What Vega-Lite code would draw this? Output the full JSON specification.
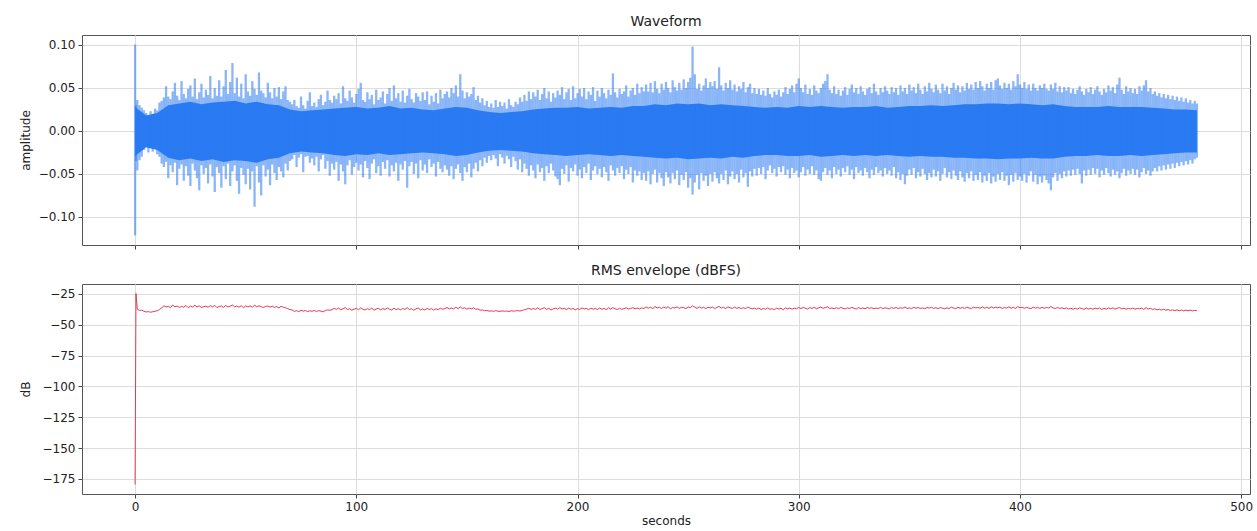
{
"$schema": "https://vega.github.io/schema/vega-lite/v6.json",
"padding": {"left": 18, "top": 14, "right": 8, "bottom": 2},
"config": {
  "font": "DejaVu Sans",
  "view": {"stroke": "#555555", "strokeWidth": 1},
  "axis": {"labelFontSize": 12, "titleFontSize": 12, "labelColor": "#222222", "titleColor": "#222222", "titleFontWeight": "normal", "tickColor": "#444444", "tickSize": 4, "domain": false, "gridColor": "#dddddd", "labelPadding": 3, "labelFlush": false},
  "title": {"fontSize": 14, "fontWeight": "normal", "color": "#222222", "offset": 6, "frame": "group"},
  "concat": {"spacing": 13}
},
"datasets": {
"core": [
{"t":0,"lo":-0.029,"hi":0.028},{"t":5,"lo":-0.019,"hi":0.018},{"t":10,"lo":-0.022,"hi":0.021},{"t":15,"lo":-0.031,"hi":0.030},{"t":20,"lo":-0.034,"hi":0.032},{"t":25,"lo":-0.032,"hi":0.034},{"t":30,"lo":-0.035,"hi":0.031},{"t":35,"lo":-0.033,"hi":0.033},{"t":40,"lo":-0.036,"hi":0.034},{"t":45,"lo":-0.034,"hi":0.035},{"t":50,"lo":-0.035,"hi":0.032},{"t":55,"lo":-0.037,"hi":0.034},{"t":60,"lo":-0.033,"hi":0.031},{"t":65,"lo":-0.031,"hi":0.030},{"t":70,"lo":-0.026,"hi":0.025},{"t":75,"lo":-0.024,"hi":0.023},{"t":80,"lo":-0.025,"hi":0.024},{"t":85,"lo":-0.026,"hi":0.025},{"t":90,"lo":-0.028,"hi":0.026},{"t":95,"lo":-0.029,"hi":0.027},{"t":100,"lo":-0.027,"hi":0.028},{"t":105,"lo":-0.028,"hi":0.026},{"t":110,"lo":-0.026,"hi":0.027},{"t":115,"lo":-0.028,"hi":0.029},{"t":120,"lo":-0.027,"hi":0.026},{"t":125,"lo":-0.026,"hi":0.027},{"t":130,"lo":-0.025,"hi":0.025},{"t":135,"lo":-0.026,"hi":0.024},{"t":140,"lo":-0.027,"hi":0.026},{"t":145,"lo":-0.029,"hi":0.028},{"t":150,"lo":-0.028,"hi":0.027},{"t":155,"lo":-0.025,"hi":0.024},{"t":160,"lo":-0.023,"hi":0.022},{"t":165,"lo":-0.022,"hi":0.021},{"t":170,"lo":-0.023,"hi":0.022},{"t":175,"lo":-0.024,"hi":0.023},{"t":180,"lo":-0.026,"hi":0.025},{"t":185,"lo":-0.027,"hi":0.026},{"t":190,"lo":-0.028,"hi":0.027},{"t":195,"lo":-0.029,"hi":0.027},{"t":200,"lo":-0.028,"hi":0.028},{"t":205,"lo":-0.027,"hi":0.026},{"t":210,"lo":-0.028,"hi":0.027},{"t":215,"lo":-0.029,"hi":0.028},{"t":220,"lo":-0.028,"hi":0.027},{"t":225,"lo":-0.029,"hi":0.029},{"t":230,"lo":-0.030,"hi":0.029},{"t":235,"lo":-0.031,"hi":0.031},{"t":240,"lo":-0.032,"hi":0.030},{"t":245,"lo":-0.031,"hi":0.032},{"t":250,"lo":-0.033,"hi":0.031},{"t":255,"lo":-0.032,"hi":0.032},{"t":260,"lo":-0.031,"hi":0.030},{"t":265,"lo":-0.032,"hi":0.031},{"t":270,"lo":-0.030,"hi":0.030},{"t":275,"lo":-0.031,"hi":0.029},{"t":280,"lo":-0.029,"hi":0.028},{"t":285,"lo":-0.028,"hi":0.027},{"t":290,"lo":-0.028,"hi":0.028},{"t":295,"lo":-0.029,"hi":0.027},{"t":300,"lo":-0.029,"hi":0.029},{"t":305,"lo":-0.028,"hi":0.028},{"t":310,"lo":-0.030,"hi":0.029},{"t":315,"lo":-0.029,"hi":0.028},{"t":320,"lo":-0.028,"hi":0.027},{"t":325,"lo":-0.029,"hi":0.028},{"t":330,"lo":-0.028,"hi":0.028},{"t":335,"lo":-0.029,"hi":0.029},{"t":340,"lo":-0.028,"hi":0.027},{"t":345,"lo":-0.029,"hi":0.028},{"t":350,"lo":-0.030,"hi":0.029},{"t":355,"lo":-0.029,"hi":0.029},{"t":360,"lo":-0.030,"hi":0.030},{"t":365,"lo":-0.030,"hi":0.029},{"t":370,"lo":-0.031,"hi":0.030},{"t":375,"lo":-0.031,"hi":0.031},{"t":380,"lo":-0.032,"hi":0.031},{"t":385,"lo":-0.032,"hi":0.032},{"t":390,"lo":-0.033,"hi":0.032},{"t":395,"lo":-0.032,"hi":0.031},{"t":400,"lo":-0.032,"hi":0.032},{"t":405,"lo":-0.031,"hi":0.031},{"t":410,"lo":-0.032,"hi":0.030},{"t":415,"lo":-0.032,"hi":0.031},{"t":420,"lo":-0.030,"hi":0.029},{"t":425,"lo":-0.029,"hi":0.028},{"t":430,"lo":-0.029,"hi":0.028},{"t":435,"lo":-0.028,"hi":0.028},{"t":440,"lo":-0.029,"hi":0.029},{"t":445,"lo":-0.029,"hi":0.028},{"t":450,"lo":-0.028,"hi":0.028},{"t":455,"lo":-0.029,"hi":0.028},{"t":460,"lo":-0.028,"hi":0.027},{"t":465,"lo":-0.027,"hi":0.026},{"t":470,"lo":-0.026,"hi":0.025},{"t":475,"lo":-0.025,"hi":0.025},{"t":480,"lo":-0.025,"hi":0.024}
],
"wave": [
{"t":0,"lo":-0.1215,"hi":0.1005,"db":-179.5},{"t":0.4,"lo":-0.035,"hi":0.03,"db":-24.6},
{"t":1,"lo":-0.046,"hi":0.036,"db":-37.4},{"t":2,"lo":-0.034,"hi":0.030,"db":-38.3},{"t":3,"lo":-0.030,"hi":0.027,"db":-38.1},{"t":4,"lo":-0.022,"hi":0.024,"db":-39.0},{"t":5,"lo":-0.019,"hi":0.021,"db":-39.6},{"t":6,"lo":-0.025,"hi":0.018,"db":-39.3},{"t":7,"lo":-0.020,"hi":0.023,"db":-39.8},{"t":8,"lo":-0.024,"hi":0.020,"db":-39.4},{"t":9,"lo":-0.021,"hi":0.026,"db":-38.9},{"t":10,"lo":-0.027,"hi":0.024,"db":-38.6},
{"t":11,"lo":-0.030,"hi":0.033,"db":-37.6},{"t":12,"lo":-0.038,"hi":0.035,"db":-36.4},{"t":13,"lo":-0.042,"hi":0.039,"db":-34.5},{"t":14,"lo":-0.036,"hi":0.052,"db":-35.6},{"t":15,"lo":-0.055,"hi":0.040,"db":-35.0},{"t":16,"lo":-0.040,"hi":0.037,"db":-36.1},{"t":17,"lo":-0.048,"hi":0.046,"db":-34.0},{"t":18,"lo":-0.037,"hi":0.056,"db":-35.4},{"t":19,"lo":-0.063,"hi":0.041,"db":-34.8},{"t":20,"lo":-0.044,"hi":0.036,"db":-35.9},
{"t":21,"lo":-0.039,"hi":0.058,"db":-35.1},{"t":22,"lo":-0.058,"hi":0.043,"db":-35.7},{"t":23,"lo":-0.041,"hi":0.038,"db":-34.3},{"t":24,"lo":-0.052,"hi":0.049,"db":-36.2},{"t":25,"lo":-0.064,"hi":0.053,"db":-34.8},{"t":26,"lo":-0.038,"hi":0.040,"db":-35.6},{"t":27,"lo":-0.046,"hi":0.061,"db":-34.1},{"t":28,"lo":-0.055,"hi":0.037,"db":-35.5},{"t":29,"lo":-0.069,"hi":0.045,"db":-34.6},{"t":30,"lo":-0.040,"hi":0.055,"db":-36.0},
{"t":31,"lo":-0.050,"hi":0.039,"db":-35.3},{"t":32,"lo":-0.043,"hi":0.048,"db":-34.9},{"t":33,"lo":-0.061,"hi":0.042,"db":-35.8},{"t":34,"lo":-0.039,"hi":0.064,"db":-34.4},{"t":35,"lo":-0.053,"hi":0.038,"db":-35.5},{"t":36,"lo":-0.071,"hi":0.050,"db":-34.2},{"t":37,"lo":-0.042,"hi":0.041,"db":-36.0},{"t":38,"lo":-0.049,"hi":0.059,"db":-35.2},{"t":39,"lo":-0.066,"hi":0.040,"db":-34.7},{"t":40,"lo":-0.041,"hi":0.052,"db":-35.9},
{"t":41,"lo":-0.056,"hi":0.071,"db":-34.3},{"t":42,"lo":-0.038,"hi":0.043,"db":-35.6},{"t":43,"lo":-0.064,"hi":0.057,"db":-34.9},{"t":44,"lo":-0.047,"hi":0.079,"db":-33.9},{"t":45,"lo":-0.040,"hi":0.044,"db":-35.4},{"t":46,"lo":-0.058,"hi":0.062,"db":-34.8},{"t":47,"lo":-0.073,"hi":0.040,"db":-35.7},{"t":48,"lo":-0.043,"hi":0.055,"db":-34.5},{"t":49,"lo":-0.051,"hi":0.038,"db":-36.1},{"t":50,"lo":-0.062,"hi":0.066,"db":-34.6},
{"t":51,"lo":-0.044,"hi":0.046,"db":-35.5},{"t":52,"lo":-0.068,"hi":0.041,"db":-34.7},{"t":53,"lo":-0.047,"hi":0.058,"db":-35.8},{"t":54,"lo":-0.088,"hi":0.049,"db":-34.0},{"t":55,"lo":-0.041,"hi":0.042,"db":-35.4},{"t":56,"lo":-0.060,"hi":0.068,"db":-34.6},{"t":57,"lo":-0.075,"hi":0.047,"db":-35.3},{"t":58,"lo":-0.040,"hi":0.044,"db":-36.0},{"t":59,"lo":-0.053,"hi":0.039,"db":-35.1},{"t":60,"lo":-0.045,"hi":0.056,"db":-34.8},
{"t":61,"lo":-0.063,"hi":0.045,"db":-35.7},{"t":62,"lo":-0.039,"hi":0.038,"db":-34.9},{"t":63,"lo":-0.049,"hi":0.050,"db":-35.9},{"t":64,"lo":-0.057,"hi":0.040,"db":-35.2},{"t":65,"lo":-0.042,"hi":0.051,"db":-36.3},{"t":66,"lo":-0.047,"hi":0.037,"db":-35.0},{"t":67,"lo":-0.054,"hi":0.046,"db":-35.8},{"t":68,"lo":-0.038,"hi":0.052,"db":-36.2},{"t":69,"lo":-0.046,"hi":0.036,"db":-36.9},{"t":70,"lo":-0.035,"hi":0.034,"db":-37.6},
{"t":71,"lo":-0.033,"hi":0.031,"db":-38.0},{"t":72,"lo":-0.028,"hi":0.036,"db":-39.1},{"t":73,"lo":-0.042,"hi":0.029,"db":-38.5},{"t":74,"lo":-0.031,"hi":0.027,"db":-39.4},{"t":75,"lo":-0.027,"hi":0.040,"db":-38.2},{"t":76,"lo":-0.048,"hi":0.030,"db":-38.9},{"t":77,"lo":-0.030,"hi":0.026,"db":-38.4},{"t":78,"lo":-0.029,"hi":0.035,"db":-39.3},{"t":79,"lo":-0.037,"hi":0.045,"db":-38.6},{"t":80,"lo":-0.032,"hi":0.029,"db":-39.0},
{"t":81,"lo":-0.040,"hi":0.033,"db":-38.3},{"t":82,"lo":-0.030,"hi":0.028,"db":-39.2},{"t":83,"lo":-0.047,"hi":0.037,"db":-38.5},{"t":84,"lo":-0.033,"hi":0.042,"db":-38.9},{"t":85,"lo":-0.028,"hi":0.030,"db":-39.5},{"t":86,"lo":-0.044,"hi":0.034,"db":-38.4},{"t":87,"lo":-0.035,"hi":0.047,"db":-37.9},{"t":88,"lo":-0.052,"hi":0.036,"db":-38.2},{"t":89,"lo":-0.038,"hi":0.033,"db":-37.7},{"t":90,"lo":-0.045,"hi":0.041,"db":-36.6},
{"t":91,"lo":-0.036,"hi":0.037,"db":-37.5},{"t":92,"lo":-0.058,"hi":0.044,"db":-36.4},{"t":93,"lo":-0.039,"hi":0.032,"db":-37.9},{"t":94,"lo":-0.047,"hi":0.052,"db":-36.9},{"t":95,"lo":-0.062,"hi":0.038,"db":-36.1},{"t":96,"lo":-0.040,"hi":0.035,"db":-37.6},{"t":97,"lo":-0.034,"hi":0.047,"db":-37.0},{"t":98,"lo":-0.051,"hi":0.039,"db":-38.1},{"t":99,"lo":-0.042,"hi":0.033,"db":-37.3},{"t":100,"lo":-0.037,"hi":0.043,"db":-36.7},
{"t":101,"lo":-0.046,"hi":0.049,"db":-37.8},{"t":102,"lo":-0.039,"hi":0.056,"db":-36.2},{"t":103,"lo":-0.054,"hi":0.036,"db":-37.4},{"t":104,"lo":-0.035,"hi":0.034,"db":-38.0},{"t":105,"lo":-0.043,"hi":0.045,"db":-36.9},{"t":106,"lo":-0.056,"hi":0.037,"db":-37.7},{"t":107,"lo":-0.038,"hi":0.042,"db":-36.5},{"t":108,"lo":-0.033,"hi":0.031,"db":-38.1},{"t":109,"lo":-0.049,"hi":0.048,"db":-37.2},{"t":110,"lo":-0.041,"hi":0.036,"db":-36.6},
{"t":111,"lo":-0.052,"hi":0.039,"db":-37.9},{"t":112,"lo":-0.036,"hi":0.046,"db":-36.8},{"t":113,"lo":-0.044,"hi":0.032,"db":-37.6},{"t":114,"lo":-0.034,"hi":0.043,"db":-36.3},{"t":115,"lo":-0.053,"hi":0.050,"db":-37.4},{"t":116,"lo":-0.040,"hi":0.035,"db":-38.0},{"t":117,"lo":-0.047,"hi":0.053,"db":-36.5},{"t":118,"lo":-0.037,"hi":0.038,"db":-37.7},{"t":119,"lo":-0.058,"hi":0.044,"db":-36.9},{"t":120,"lo":-0.039,"hi":0.034,"db":-37.8},
{"t":121,"lo":-0.045,"hi":0.047,"db":-36.8},{"t":122,"lo":-0.035,"hi":0.033,"db":-37.5},{"t":123,"lo":-0.066,"hi":0.041,"db":-36.1},{"t":124,"lo":-0.041,"hi":0.049,"db":-37.6},{"t":125,"lo":-0.036,"hi":0.037,"db":-36.9},{"t":126,"lo":-0.050,"hi":0.033,"db":-38.2},{"t":127,"lo":-0.038,"hi":0.044,"db":-37.0},{"t":128,"lo":-0.055,"hi":0.040,"db":-36.4},{"t":129,"lo":-0.034,"hi":0.035,"db":-37.9},{"t":130,"lo":-0.046,"hi":0.045,"db":-37.1},
{"t":131,"lo":-0.039,"hi":0.036,"db":-38.0},{"t":132,"lo":-0.049,"hi":0.046,"db":-36.7},{"t":133,"lo":-0.033,"hi":0.031,"db":-37.6},{"t":134,"lo":-0.042,"hi":0.041,"db":-36.9},{"t":135,"lo":-0.038,"hi":0.034,"db":-38.1},{"t":136,"lo":-0.053,"hi":0.044,"db":-37.0},{"t":137,"lo":-0.036,"hi":0.032,"db":-37.7},{"t":138,"lo":-0.044,"hi":0.048,"db":-36.6},{"t":139,"lo":-0.048,"hi":0.038,"db":-37.4},{"t":140,"lo":-0.040,"hi":0.043,"db":-36.8},
{"t":141,"lo":-0.045,"hi":0.046,"db":-36.0},{"t":142,"lo":-0.052,"hi":0.039,"db":-37.1},{"t":143,"lo":-0.041,"hi":0.050,"db":-36.3},{"t":144,"lo":-0.056,"hi":0.044,"db":-37.2},{"t":145,"lo":-0.044,"hi":0.053,"db":-35.7},{"t":146,"lo":-0.039,"hi":0.040,"db":-36.9},{"t":147,"lo":-0.049,"hi":0.066,"db":-35.5},{"t":148,"lo":-0.058,"hi":0.047,"db":-36.8},{"t":149,"lo":-0.042,"hi":0.038,"db":-36.2},{"t":150,"lo":-0.048,"hi":0.045,"db":-37.3},
{"t":151,"lo":-0.038,"hi":0.040,"db":-36.4},{"t":152,"lo":-0.054,"hi":0.043,"db":-37.0},{"t":153,"lo":-0.044,"hi":0.051,"db":-36.3},{"t":154,"lo":-0.037,"hi":0.036,"db":-37.4},{"t":155,"lo":-0.047,"hi":0.041,"db":-37.2},{"t":156,"lo":-0.034,"hi":0.033,"db":-38.1},{"t":157,"lo":-0.041,"hi":0.038,"db":-37.9},{"t":158,"lo":-0.031,"hi":0.030,"db":-38.6},{"t":159,"lo":-0.037,"hi":0.035,"db":-38.4},{"t":160,"lo":-0.029,"hi":0.028,"db":-38.9},
{"t":161,"lo":-0.034,"hi":0.032,"db":-38.7},{"t":162,"lo":-0.028,"hi":0.027,"db":-39.0},{"t":163,"lo":-0.032,"hi":0.036,"db":-38.6},{"t":164,"lo":-0.041,"hi":0.028,"db":-38.9},{"t":165,"lo":-0.027,"hi":0.034,"db":-39.1},{"t":166,"lo":-0.031,"hi":0.029,"db":-38.7},{"t":167,"lo":-0.038,"hi":0.033,"db":-39.0},{"t":168,"lo":-0.029,"hi":0.026,"db":-38.8},{"t":169,"lo":-0.033,"hi":0.037,"db":-39.2},{"t":170,"lo":-0.042,"hi":0.030,"db":-38.6},
{"t":171,"lo":-0.030,"hi":0.028,"db":-38.9},{"t":172,"lo":-0.035,"hi":0.034,"db":-38.7},{"t":173,"lo":-0.045,"hi":0.031,"db":-38.5},{"t":174,"lo":-0.033,"hi":0.039,"db":-38.8},{"t":175,"lo":-0.048,"hi":0.034,"db":-38.3},{"t":176,"lo":-0.038,"hi":0.042,"db":-37.8},{"t":177,"lo":-0.044,"hi":0.035,"db":-37.2},{"t":178,"lo":-0.052,"hi":0.046,"db":-36.6},{"t":179,"lo":-0.040,"hi":0.037,"db":-37.5},{"t":180,"lo":-0.046,"hi":0.045,"db":-36.8},
{"t":181,"lo":-0.055,"hi":0.040,"db":-37.4},{"t":182,"lo":-0.039,"hi":0.048,"db":-36.3},{"t":183,"lo":-0.048,"hi":0.036,"db":-37.6},{"t":184,"lo":-0.043,"hi":0.043,"db":-36.9},{"t":185,"lo":-0.058,"hi":0.050,"db":-36.1},{"t":186,"lo":-0.041,"hi":0.038,"db":-37.5},{"t":187,"lo":-0.049,"hi":0.046,"db":-36.7},{"t":188,"lo":-0.038,"hi":0.034,"db":-37.9},{"t":189,"lo":-0.046,"hi":0.044,"db":-37.1},{"t":190,"lo":-0.053,"hi":0.039,"db":-36.5},
{"t":191,"lo":-0.056,"hi":0.047,"db":-37.3},{"t":192,"lo":-0.063,"hi":0.042,"db":-36.0},{"t":193,"lo":-0.044,"hi":0.051,"db":-37.2},{"t":194,"lo":-0.050,"hi":0.037,"db":-36.6},{"t":195,"lo":-0.040,"hi":0.045,"db":-37.7},{"t":196,"lo":-0.059,"hi":0.049,"db":-36.4},{"t":197,"lo":-0.043,"hi":0.036,"db":-37.4},{"t":198,"lo":-0.047,"hi":0.052,"db":-36.8},{"t":199,"lo":-0.039,"hi":0.038,"db":-37.9},{"t":200,"lo":-0.052,"hi":0.044,"db":-36.9},
{"t":201,"lo":-0.045,"hi":0.049,"db":-37.5},{"t":202,"lo":-0.055,"hi":0.040,"db":-36.3},{"t":203,"lo":-0.042,"hi":0.050,"db":-37.1},{"t":204,"lo":-0.049,"hi":0.037,"db":-36.7},{"t":205,"lo":-0.038,"hi":0.046,"db":-37.8},{"t":206,"lo":-0.057,"hi":0.042,"db":-36.5},{"t":207,"lo":-0.046,"hi":0.051,"db":-37.3},{"t":208,"lo":-0.041,"hi":0.035,"db":-36.8},{"t":209,"lo":-0.050,"hi":0.047,"db":-37.6},{"t":210,"lo":-0.044,"hi":0.040,"db":-36.4},
{"t":211,"lo":-0.054,"hi":0.050,"db":-37.4},{"t":212,"lo":-0.042,"hi":0.044,"db":-36.7},{"t":213,"lo":-0.048,"hi":0.038,"db":-37.7},{"t":214,"lo":-0.058,"hi":0.048,"db":-36.2},{"t":215,"lo":-0.040,"hi":0.042,"db":-37.3},{"t":216,"lo":-0.046,"hi":0.067,"db":-36.0},{"t":217,"lo":-0.052,"hi":0.045,"db":-37.0},{"t":218,"lo":-0.043,"hi":0.039,"db":-37.6},{"t":219,"lo":-0.049,"hi":0.049,"db":-36.6},{"t":220,"lo":-0.041,"hi":0.043,"db":-37.5},
{"t":221,"lo":-0.056,"hi":0.046,"db":-36.9},{"t":222,"lo":-0.045,"hi":0.053,"db":-36.2},{"t":223,"lo":-0.050,"hi":0.040,"db":-37.2},{"t":224,"lo":-0.042,"hi":0.047,"db":-36.7},{"t":225,"lo":-0.060,"hi":0.050,"db":-36.1},{"t":226,"lo":-0.046,"hi":0.042,"db":-37.0},{"t":227,"lo":-0.052,"hi":0.055,"db":-36.4},{"t":228,"lo":-0.047,"hi":0.044,"db":-37.1},{"t":229,"lo":-0.057,"hi":0.051,"db":-36.3},{"t":230,"lo":-0.049,"hi":0.046,"db":-36.8},
{"t":231,"lo":-0.058,"hi":0.054,"db":-35.5},{"t":232,"lo":-0.047,"hi":0.046,"db":-36.6},{"t":233,"lo":-0.062,"hi":0.056,"db":-35.7},{"t":234,"lo":-0.050,"hi":0.045,"db":-36.9},{"t":235,"lo":-0.045,"hi":0.058,"db":-35.2},{"t":236,"lo":-0.060,"hi":0.049,"db":-36.3},{"t":237,"lo":-0.049,"hi":0.044,"db":-35.8},{"t":238,"lo":-0.055,"hi":0.055,"db":-36.8},{"t":239,"lo":-0.064,"hi":0.048,"db":-35.6},{"t":240,"lo":-0.048,"hi":0.057,"db":-36.5},
{"t":241,"lo":-0.054,"hi":0.050,"db":-35.3},{"t":242,"lo":-0.061,"hi":0.045,"db":-37.1},{"t":243,"lo":-0.049,"hi":0.059,"db":-35.9},{"t":244,"lo":-0.056,"hi":0.051,"db":-36.4},{"t":245,"lo":-0.046,"hi":0.047,"db":-35.4},{"t":246,"lo":-0.063,"hi":0.056,"db":-36.7},{"t":247,"lo":-0.051,"hi":0.048,"db":-35.8},{"t":248,"lo":-0.057,"hi":0.060,"db":-36.0},{"t":249,"lo":-0.048,"hi":0.050,"db":-36.9},{"t":250,"lo":-0.066,"hi":0.057,"db":-35.5},
{"t":251,"lo":-0.055,"hi":0.062,"db":-36.1},{"t":252,"lo":-0.074,"hi":0.098,"db":-34.6},{"t":253,"lo":-0.060,"hi":0.066,"db":-35.6},{"t":254,"lo":-0.051,"hi":0.049,"db":-36.7},{"t":255,"lo":-0.068,"hi":0.055,"db":-35.4},{"t":256,"lo":-0.049,"hi":0.047,"db":-36.5},{"t":257,"lo":-0.058,"hi":0.053,"db":-35.8},{"t":258,"lo":-0.052,"hi":0.061,"db":-36.9},{"t":259,"lo":-0.064,"hi":0.050,"db":-35.7},{"t":260,"lo":-0.050,"hi":0.057,"db":-36.3},
{"t":261,"lo":-0.059,"hi":0.052,"db":-35.6},{"t":262,"lo":-0.048,"hi":0.058,"db":-36.8},{"t":263,"lo":-0.055,"hi":0.049,"db":-35.9},{"t":264,"lo":-0.061,"hi":0.074,"db":-35.1},{"t":265,"lo":-0.050,"hi":0.053,"db":-36.4},{"t":266,"lo":-0.057,"hi":0.047,"db":-35.8},{"t":267,"lo":-0.046,"hi":0.056,"db":-36.9},{"t":268,"lo":-0.062,"hi":0.050,"db":-35.5},{"t":269,"lo":-0.053,"hi":0.059,"db":-36.2},{"t":270,"lo":-0.047,"hi":0.048,"db":-36.7},
{"t":271,"lo":-0.056,"hi":0.054,"db":-35.7},{"t":272,"lo":-0.050,"hi":0.046,"db":-36.6},{"t":273,"lo":-0.060,"hi":0.052,"db":-35.9},{"t":274,"lo":-0.045,"hi":0.049,"db":-37.0},{"t":275,"lo":-0.054,"hi":0.057,"db":-36.1},{"t":276,"lo":-0.049,"hi":0.045,"db":-36.8},{"t":277,"lo":-0.065,"hi":0.051,"db":-35.6},{"t":278,"lo":-0.047,"hi":0.055,"db":-36.5},{"t":279,"lo":-0.053,"hi":0.044,"db":-37.1},{"t":280,"lo":-0.044,"hi":0.050,"db":-36.4},
{"t":281,"lo":-0.052,"hi":0.043,"db":-37.3},{"t":282,"lo":-0.043,"hi":0.049,"db":-36.4},{"t":283,"lo":-0.050,"hi":0.042,"db":-37.6},{"t":284,"lo":-0.042,"hi":0.047,"db":-36.7},{"t":285,"lo":-0.056,"hi":0.041,"db":-37.4},{"t":286,"lo":-0.046,"hi":0.050,"db":-36.2},{"t":287,"lo":-0.040,"hi":0.043,"db":-37.5},{"t":288,"lo":-0.049,"hi":0.039,"db":-36.9},{"t":289,"lo":-0.044,"hi":0.046,"db":-37.7},{"t":290,"lo":-0.053,"hi":0.042,"db":-36.5},
{"t":291,"lo":-0.042,"hi":0.048,"db":-37.2},{"t":292,"lo":-0.048,"hi":0.040,"db":-36.6},{"t":293,"lo":-0.041,"hi":0.045,"db":-37.8},{"t":294,"lo":-0.051,"hi":0.051,"db":-36.3},{"t":295,"lo":-0.045,"hi":0.043,"db":-37.1},{"t":296,"lo":-0.055,"hi":0.049,"db":-36.4},{"t":297,"lo":-0.043,"hi":0.053,"db":-37.3},{"t":298,"lo":-0.049,"hi":0.045,"db":-36.5},{"t":299,"lo":-0.046,"hi":0.055,"db":-37.0},{"t":300,"lo":-0.054,"hi":0.061,"db":-35.8},
{"t":301,"lo":-0.048,"hi":0.050,"db":-36.9},{"t":302,"lo":-0.042,"hi":0.045,"db":-35.9},{"t":303,"lo":-0.052,"hi":0.054,"db":-36.6},{"t":304,"lo":-0.045,"hi":0.043,"db":-37.2},{"t":305,"lo":-0.050,"hi":0.049,"db":-36.0},{"t":306,"lo":-0.041,"hi":0.042,"db":-36.8},{"t":307,"lo":-0.051,"hi":0.053,"db":-35.7},{"t":308,"lo":-0.046,"hi":0.047,"db":-36.9},{"t":309,"lo":-0.056,"hi":0.044,"db":-36.2},{"t":310,"lo":-0.058,"hi":0.050,"db":-35.6},
{"t":311,"lo":-0.048,"hi":0.055,"db":-36.7},{"t":312,"lo":-0.043,"hi":0.058,"db":-36.0},{"t":313,"lo":-0.051,"hi":0.066,"db":-35.4},{"t":314,"lo":-0.046,"hi":0.048,"db":-36.8},{"t":315,"lo":-0.055,"hi":0.044,"db":-36.3},{"t":316,"lo":-0.042,"hi":0.052,"db":-37.0},{"t":317,"lo":-0.050,"hi":0.043,"db":-36.1},{"t":318,"lo":-0.045,"hi":0.048,"db":-36.9},{"t":319,"lo":-0.053,"hi":0.041,"db":-35.9},{"t":320,"lo":-0.043,"hi":0.047,"db":-36.6},
{"t":321,"lo":-0.048,"hi":0.051,"db":-37.1},{"t":322,"lo":-0.041,"hi":0.042,"db":-36.2},{"t":323,"lo":-0.051,"hi":0.049,"db":-36.8},{"t":324,"lo":-0.045,"hi":0.054,"db":-35.8},{"t":325,"lo":-0.056,"hi":0.045,"db":-36.6},{"t":326,"lo":-0.042,"hi":0.050,"db":-37.2},{"t":327,"lo":-0.049,"hi":0.043,"db":-36.0},{"t":328,"lo":-0.046,"hi":0.052,"db":-36.9},{"t":329,"lo":-0.052,"hi":0.046,"db":-36.3},{"t":330,"lo":-0.043,"hi":0.042,"db":-37.0},
{"t":331,"lo":-0.048,"hi":0.049,"db":-35.9},{"t":332,"lo":-0.055,"hi":0.051,"db":-36.7},{"t":333,"lo":-0.045,"hi":0.044,"db":-36.1},{"t":334,"lo":-0.051,"hi":0.055,"db":-37.0},{"t":335,"lo":-0.042,"hi":0.046,"db":-36.4},{"t":336,"lo":-0.049,"hi":0.042,"db":-36.8},{"t":337,"lo":-0.046,"hi":0.050,"db":-35.8},{"t":338,"lo":-0.053,"hi":0.045,"db":-36.9},{"t":339,"lo":-0.043,"hi":0.052,"db":-36.2},{"t":340,"lo":-0.050,"hi":0.047,"db":-36.6},
{"t":341,"lo":-0.046,"hi":0.043,"db":-37.1},{"t":342,"lo":-0.052,"hi":0.051,"db":-36.0},{"t":343,"lo":-0.042,"hi":0.045,"db":-36.7},{"t":344,"lo":-0.055,"hi":0.050,"db":-35.9},{"t":345,"lo":-0.048,"hi":0.042,"db":-36.9},{"t":346,"lo":-0.057,"hi":0.053,"db":-36.1},{"t":347,"lo":-0.050,"hi":0.046,"db":-36.6},{"t":348,"lo":-0.062,"hi":0.050,"db":-35.6},{"t":349,"lo":-0.052,"hi":0.043,"db":-36.8},{"t":350,"lo":-0.045,"hi":0.054,"db":-36.2},
{"t":351,"lo":-0.051,"hi":0.047,"db":-36.9},{"t":352,"lo":-0.043,"hi":0.051,"db":-35.8},{"t":353,"lo":-0.055,"hi":0.044,"db":-36.6},{"t":354,"lo":-0.048,"hi":0.055,"db":-36.0},{"t":355,"lo":-0.053,"hi":0.048,"db":-36.8},{"t":356,"lo":-0.044,"hi":0.043,"db":-36.3},{"t":357,"lo":-0.050,"hi":0.052,"db":-37.0},{"t":358,"lo":-0.057,"hi":0.046,"db":-35.9},{"t":359,"lo":-0.049,"hi":0.056,"db":-36.5},{"t":360,"lo":-0.054,"hi":0.049,"db":-35.8},
{"t":361,"lo":-0.045,"hi":0.045,"db":-36.7},{"t":362,"lo":-0.053,"hi":0.054,"db":-36.1},{"t":363,"lo":-0.047,"hi":0.048,"db":-36.9},{"t":364,"lo":-0.058,"hi":0.044,"db":-36.0},{"t":365,"lo":-0.050,"hi":0.055,"db":-36.5},{"t":366,"lo":-0.043,"hi":0.047,"db":-37.0},{"t":367,"lo":-0.054,"hi":0.052,"db":-36.2},{"t":368,"lo":-0.048,"hi":0.043,"db":-36.8},{"t":369,"lo":-0.056,"hi":0.050,"db":-35.7},{"t":370,"lo":-0.046,"hi":0.056,"db":-36.4},
{"t":371,"lo":-0.052,"hi":0.048,"db":-36.9},{"t":372,"lo":-0.057,"hi":0.053,"db":-35.8},{"t":373,"lo":-0.047,"hi":0.045,"db":-36.6},{"t":374,"lo":-0.054,"hi":0.052,"db":-36.0},{"t":375,"lo":-0.059,"hi":0.047,"db":-36.7},{"t":376,"lo":-0.049,"hi":0.056,"db":-35.6},{"t":377,"lo":-0.055,"hi":0.049,"db":-36.4},{"t":378,"lo":-0.047,"hi":0.054,"db":-36.8},{"t":379,"lo":-0.058,"hi":0.048,"db":-35.7},{"t":380,"lo":-0.051,"hi":0.057,"db":-36.3},
{"t":381,"lo":-0.057,"hi":0.050,"db":-35.9},{"t":382,"lo":-0.048,"hi":0.058,"db":-36.6},{"t":383,"lo":-0.060,"hi":0.052,"db":-35.5},{"t":384,"lo":-0.052,"hi":0.047,"db":-36.5},{"t":385,"lo":-0.058,"hi":0.055,"db":-35.8},{"t":386,"lo":-0.049,"hi":0.050,"db":-36.7},{"t":387,"lo":-0.061,"hi":0.057,"db":-35.4},{"t":388,"lo":-0.053,"hi":0.048,"db":-36.3},{"t":389,"lo":-0.059,"hi":0.059,"db":-35.7},{"t":390,"lo":-0.050,"hi":0.061,"db":-36.2},
{"t":391,"lo":-0.057,"hi":0.053,"db":-35.6},{"t":392,"lo":-0.048,"hi":0.049,"db":-36.8},{"t":393,"lo":-0.058,"hi":0.056,"db":-35.9},{"t":394,"lo":-0.052,"hi":0.050,"db":-36.5},{"t":395,"lo":-0.063,"hi":0.055,"db":-35.4},{"t":396,"lo":-0.051,"hi":0.048,"db":-36.6},{"t":397,"lo":-0.059,"hi":0.058,"db":-35.8},{"t":398,"lo":-0.049,"hi":0.052,"db":-36.7},{"t":399,"lo":-0.057,"hi":0.066,"db":-35.3},{"t":400,"lo":-0.053,"hi":0.054,"db":-36.2},
{"t":401,"lo":-0.058,"hi":0.050,"db":-35.7},{"t":402,"lo":-0.050,"hi":0.057,"db":-36.6},{"t":403,"lo":-0.060,"hi":0.049,"db":-35.8},{"t":404,"lo":-0.052,"hi":0.054,"db":-36.4},{"t":405,"lo":-0.047,"hi":0.047,"db":-36.9},{"t":406,"lo":-0.059,"hi":0.055,"db":-35.6},{"t":407,"lo":-0.051,"hi":0.050,"db":-36.5},{"t":408,"lo":-0.062,"hi":0.047,"db":-35.9},{"t":409,"lo":-0.053,"hi":0.053,"db":-36.7},{"t":410,"lo":-0.060,"hi":0.050,"db":-35.8},
{"t":411,"lo":-0.052,"hi":0.055,"db":-36.6},{"t":412,"lo":-0.057,"hi":0.049,"db":-35.9},{"t":413,"lo":-0.061,"hi":0.047,"db":-36.4},{"t":414,"lo":-0.069,"hi":0.054,"db":-35.2},{"t":415,"lo":-0.054,"hi":0.049,"db":-36.3},{"t":416,"lo":-0.049,"hi":0.056,"db":-36.8},{"t":417,"lo":-0.058,"hi":0.046,"db":-35.9},{"t":418,"lo":-0.050,"hi":0.052,"db":-36.7},{"t":419,"lo":-0.055,"hi":0.045,"db":-36.2},{"t":420,"lo":-0.047,"hi":0.051,"db":-37.0},
{"t":421,"lo":-0.053,"hi":0.047,"db":-36.3},{"t":422,"lo":-0.046,"hi":0.051,"db":-37.2},{"t":423,"lo":-0.052,"hi":0.044,"db":-36.5},{"t":424,"lo":-0.045,"hi":0.049,"db":-37.4},{"t":425,"lo":-0.051,"hi":0.043,"db":-36.6},{"t":426,"lo":-0.044,"hi":0.048,"db":-37.3},{"t":427,"lo":-0.050,"hi":0.052,"db":-36.2},{"t":428,"lo":-0.061,"hi":0.046,"db":-36.9},{"t":429,"lo":-0.046,"hi":0.042,"db":-37.5},{"t":430,"lo":-0.052,"hi":0.049,"db":-36.4},
{"t":431,"lo":-0.045,"hi":0.045,"db":-37.2},{"t":432,"lo":-0.051,"hi":0.051,"db":-36.6},{"t":433,"lo":-0.043,"hi":0.043,"db":-37.4},{"t":434,"lo":-0.050,"hi":0.048,"db":-36.5},{"t":435,"lo":-0.044,"hi":0.052,"db":-37.1},{"t":436,"lo":-0.054,"hi":0.046,"db":-36.3},{"t":437,"lo":-0.046,"hi":0.042,"db":-37.6},{"t":438,"lo":-0.051,"hi":0.049,"db":-36.7},{"t":439,"lo":-0.043,"hi":0.045,"db":-37.3},{"t":440,"lo":-0.049,"hi":0.053,"db":-36.4},
{"t":441,"lo":-0.053,"hi":0.047,"db":-37.0},{"t":442,"lo":-0.045,"hi":0.051,"db":-36.2},{"t":443,"lo":-0.051,"hi":0.044,"db":-37.3},{"t":444,"lo":-0.047,"hi":0.054,"db":-36.6},{"t":445,"lo":-0.055,"hi":0.062,"db":-36.0},{"t":446,"lo":-0.049,"hi":0.048,"db":-37.1},{"t":447,"lo":-0.044,"hi":0.043,"db":-36.5},{"t":448,"lo":-0.052,"hi":0.052,"db":-37.4},{"t":449,"lo":-0.046,"hi":0.046,"db":-36.7},{"t":450,"lo":-0.050,"hi":0.050,"db":-37.2},
{"t":451,"lo":-0.044,"hi":0.044,"db":-36.4},{"t":452,"lo":-0.051,"hi":0.049,"db":-37.3},{"t":453,"lo":-0.045,"hi":0.043,"db":-36.8},{"t":454,"lo":-0.054,"hi":0.052,"db":-37.0},{"t":455,"lo":-0.048,"hi":0.047,"db":-36.5},{"t":456,"lo":-0.043,"hi":0.053,"db":-37.4},{"t":457,"lo":-0.050,"hi":0.059,"db":-36.1},{"t":458,"lo":-0.046,"hi":0.046,"db":-37.2},{"t":459,"lo":-0.052,"hi":0.050,"db":-36.6},{"t":460,"lo":-0.047,"hi":0.043,"db":-37.5},
{"t":461,"lo":-0.043,"hi":0.046,"db":-37.0},{"t":462,"lo":-0.047,"hi":0.041,"db":-37.9},{"t":463,"lo":-0.041,"hi":0.044,"db":-37.3},{"t":464,"lo":-0.046,"hi":0.039,"db":-38.1},{"t":465,"lo":-0.040,"hi":0.043,"db":-37.4},{"t":466,"lo":-0.045,"hi":0.038,"db":-38.2},{"t":467,"lo":-0.039,"hi":0.042,"db":-37.6},{"t":468,"lo":-0.044,"hi":0.037,"db":-38.4},{"t":469,"lo":-0.038,"hi":0.041,"db":-37.8},{"t":470,"lo":-0.043,"hi":0.036,"db":-38.5},
{"t":471,"lo":-0.037,"hi":0.040,"db":-37.9},{"t":472,"lo":-0.041,"hi":0.035,"db":-38.6},{"t":473,"lo":-0.036,"hi":0.039,"db":-38.0},{"t":474,"lo":-0.040,"hi":0.034,"db":-38.7},{"t":475,"lo":-0.035,"hi":0.038,"db":-38.1},{"t":476,"lo":-0.039,"hi":0.033,"db":-38.6},{"t":477,"lo":-0.034,"hi":0.036,"db":-38.2},{"t":478,"lo":-0.038,"hi":0.032,"db":-38.7},{"t":479,"lo":-0.033,"hi":0.035,"db":-38.3},{"t":480,"lo":-0.031,"hi":0.032,"db":-38.5}
]
},
"vconcat": [
  {
    "title": "Waveform",
    "width": 1168,
    "height": 210,
    "layer": [
      {
        "data": {"name": "core"},
        "mark": {"type": "area", "color": "#2a7af2", "opacity": 1},
        "encoding": {
          "x": {"field": "t", "type": "quantitative", "scale": {"domain": [-24, 504], "nice": false, "zero": false},
                "axis": {"values": [0, 100, 200, 300, 400, 500], "labels": false, "title": null, "grid": true}},
          "y": {"field": "lo", "type": "quantitative", "scale": {"domain": [-0.1326, 0.1116], "nice": false, "zero": false},
                "axis": {"title": "amplitude", "values": [-0.1, -0.05, 0, 0.05, 0.1], "format": ".2f", "minExtent": 45, "maxExtent": 45, "titlePadding": 5, "grid": true}},
          "y2": {"field": "hi"}
        }
      },
      {
        "data": {"name": "wave"},
        "mark": {"type": "rule", "color": "#2a7af2", "strokeWidth": 2.3, "opacity": 0.55},
        "encoding": {
          "x": {"field": "t", "type": "quantitative"},
          "y": {"field": "lo", "type": "quantitative"},
          "y2": {"field": "hi"}
        }
      }
    ]
  },
  {
    "title": "RMS envelope (dBFS)",
    "width": 1168,
    "height": 210,
    "data": {"name": "wave"},
    "mark": {"type": "line", "color": "#e8384f", "strokeWidth": 1},
    "encoding": {
      "x": {"field": "t", "type": "quantitative", "scale": {"domain": [-24, 504], "nice": false, "zero": false},
            "axis": {"values": [0, 100, 200, 300, 400, 500], "title": "seconds", "grid": true, "titlePadding": 3}},
      "y": {"field": "db", "type": "quantitative", "scale": {"domain": [-187.2, -16.9], "nice": false, "zero": false},
            "axis": {"title": "dB", "values": [-175, -150, -125, -100, -75, -50, -25], "minExtent": 45, "maxExtent": 45, "titlePadding": 5, "grid": true}}
    }
  }
]
}
